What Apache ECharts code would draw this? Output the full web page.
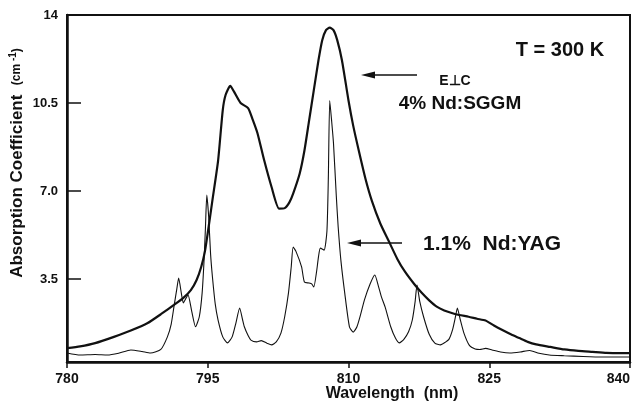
<!DOCTYPE html>
<html>
<head>
<meta charset="utf-8">
<script src="https://cdn.jsdelivr.net/npm/echarts@6/dist/echarts.min.js"></script>
<style>
  html, body { margin: 0; padding: 0; background: #fff; }
  #absorb { width: 643px; height: 404px; }
</style>
</head>
<body>
<div id="absorb"></div>
<script>
// 4% Nd:SGGM (粗线)
const sggmX = [780.0, 781.4, 783.0, 785.0, 786.8, 788.6, 790.0, 791.4, 792.4, 793.2, 793.8, 794.3, 794.7, 795.0, 795.5, 796.1, 796.6, 796.9, 797.4, 797.8, 798.5, 799.3, 799.8, 800.3, 801.0, 801.8, 802.6, 803.2, 803.7, 804.1, 804.8, 805.3, 805.8, 806.3, 806.8, 807.2, 807.6, 808.0, 808.4, 808.8, 809.3, 810.0, 810.5, 811.1, 811.8, 812.5, 813.4, 814.3, 815.2, 816.0, 817.0, 817.8, 818.6, 819.4, 820.2, 821.0, 821.8, 822.8, 823.7, 824.6, 825.5, 826.4, 827.3, 828.2, 829.1, 830.0, 831.5, 833.0, 834.5, 836.0, 837.5, 839.0, 840.0]
const sggmY = [0.75, 0.82, 0.95, 1.2, 1.45, 1.75, 2.1, 2.47, 2.75, 3.06, 3.45, 3.98, 4.6, 5.33, 6.64, 8.2, 10.22, 10.82, 11.18, 10.95, 10.5, 10.3, 9.83, 9.3, 8.24, 7.16, 6.3, 6.32, 6.55, 6.9, 7.7, 8.6, 9.8, 11.0, 12.2, 13.0, 13.4, 13.5, 13.4, 13.0, 12.2, 10.6, 9.6, 8.6, 7.5, 6.6, 5.7, 5.0, 4.3, 3.8, 3.3, 2.95, 2.65, 2.4, 2.25, 2.15, 2.07, 2.0, 1.92, 1.85, 1.65, 1.47, 1.3, 1.15, 1.0, 0.9, 0.8, 0.7, 0.64, 0.6, 0.56, 0.55, 0.55]

// 1.1% Nd:YAG (细线)
const yagX = [780.0, 781.4, 783.0, 784.3, 785.5, 786.8, 788.0, 788.9, 790.0, 790.7, 791.1, 791.4, 791.7, 791.9, 792.2, 792.4, 792.7, 792.9, 793.3, 793.7, 794.1, 794.4, 794.6, 794.75, 794.9, 795.1, 795.3, 795.5, 795.8, 796.1, 796.6, 797.1, 797.6, 798.0, 798.4, 798.7, 798.9, 799.3, 799.6, 800.2, 800.7, 801.3, 801.8, 802.3, 802.8, 803.2, 803.6, 803.9, 804.1, 804.4, 805.0, 805.3, 805.8, 806.1, 806.3, 806.6, 806.8, 807.0, 807.4, 807.7, 807.85, 808.0, 808.2, 808.4, 808.7, 808.9, 809.2, 809.6, 810.1, 810.5, 810.9, 811.3, 811.7, 812.3, 812.8, 813.2, 813.5, 813.9, 814.5, 815.0, 815.4, 815.9, 816.4, 816.8, 817.1, 817.3, 817.6, 818.0, 818.6, 819.2, 819.8, 820.3, 820.7, 821.1, 821.4, 821.6, 821.9, 822.3, 822.9, 823.5, 824.0, 824.6, 825.3, 826.2, 827.2, 828.3, 829.3, 830.3, 831.4, 833.0, 835.0, 837.0, 839.3, 840.0]
const yagY = [0.56, 0.48, 0.5, 0.48, 0.55, 0.68, 0.62, 0.56, 0.7, 1.2, 1.7, 2.4, 3.1, 3.54, 2.9, 2.55, 2.75, 2.87, 2.2, 1.6, 2.0, 2.94, 4.2, 5.5, 6.84, 5.97, 4.5, 3.58, 2.5, 1.87, 1.2, 0.96, 1.2, 1.75, 2.35, 1.9, 1.6, 1.25, 1.07, 1.0, 1.05, 0.95, 0.88, 1.0, 1.35, 2.0, 2.94, 4.0, 4.77, 4.6, 3.98, 3.38, 3.34, 3.3, 3.18, 3.8, 4.38, 4.73, 4.65, 5.4, 7.5, 10.6, 9.8, 8.9, 6.8, 5.57, 4.2, 2.94, 1.6, 1.39, 1.6, 2.1, 2.67, 3.3, 3.66, 3.2, 2.8, 2.39, 1.6, 1.15, 0.96, 1.1, 1.4, 1.87, 2.6, 3.26, 2.6, 2.0, 1.3, 0.95, 0.88, 0.98, 1.1, 1.5, 2.0, 2.35, 1.9, 1.35, 0.85, 0.72, 0.7, 0.74, 0.68, 0.6, 0.56, 0.6, 0.66, 0.55, 0.48, 0.45, 0.42, 0.4, 0.4, 0.4]

// 坐标轴刻度
const xTicks = [780, 795, 810, 825, 840]
const yTicks = [3.5, 7.0, 10.5, 14]
const yTickLabels = ['3.5', '7.0', '10.5', '14']

const font = 'Liberation Sans, Arial, Helvetica, sans-serif'
const ink = '#111'

const toPairs = (xs, ys) => xs.map((x, i) => [x, ys[i]])

// 箭头 (线 + 三角形)
const arrow = (x1, x2, y) => [
  {
    type: 'line',
    shape: { x1: x1 + 10, y1: y, x2: x2, y2: y },
    style: { stroke: ink, lineWidth: 1.5 }
  },
  {
    type: 'polygon',
    shape: { points: [[x1, y], [x1 + 14, y - 3.5], [x1 + 14, y + 3.5]] },
    style: { fill: ink }
  }
]

const option = {
  animation: false,
  backgroundColor: '#fff',
  grid: {
    left: 67,
    right: 13,
    top: 15,
    bottom: 42,
    show: true,
    borderColor: ink,
    borderWidth: 2
  },
  xAxis: {
    type: 'value',
    min: 780,
    max: 840,
    interval: 15,
    axisLine: { lineStyle: { color: ink, width: 2.5 } },
    axisTick: { show: true, length: 6, lineStyle: { color: ink, width: 1.5 } },
    axisLabel: {
      color: ink,
      fontFamily: font,
      fontWeight: 'bold',
      fontSize: 14,
      margin: 10,
      alignMaxLabel: 'right',
      formatter: (v) => (xTicks.includes(v) ? String(v) : '')
    },
    splitLine: { show: false }
  },
  yAxis: {
    type: 'value',
    min: 0.2,
    max: 14,
    axisLine: { show: true, lineStyle: { color: ink, width: 2.5 } },
    axisTick: {
      show: true,
      inside: true,
      length: 14,
      customValues: yTicks,
      lineStyle: { color: ink, width: 1.5 }
    },
    axisLabel: {
      color: ink,
      fontFamily: font,
      fontWeight: 'bold',
      fontSize: 13,
      margin: 9,
      customValues: yTicks,
      formatter: (v) => {
        let idx = yTicks.indexOf(v)
        return idx >= 0 ? yTickLabels[idx] : ''
      }
    },
    splitLine: { show: false }
  },
  series: [
    {
      name: '4% Nd:SGGM',
      type: 'line',
      data: toPairs(sggmX, sggmY),
      smooth: 0.2,
      symbol: 'none',
      lineStyle: { color: ink, width: 2.2 }
    },
    {
      name: '1.1% Nd:YAG',
      type: 'line',
      data: toPairs(yagX, yagY),
      smooth: 0.2,
      symbol: 'none',
      lineStyle: { color: ink, width: 1.1 }
    }
  ],
  graphic: [
    {
      type: 'text',
      x: 17,
      y: 163,
      rotation: Math.PI / 2,
      style: {
        text: 'Absorption Coefficient  {s|(cm}{sup| -1}{s|)}',
        fill: ink,
        font: 'bold 17px ' + font,
        align: 'center',
        verticalAlign: 'middle',
        rich: {
          s: { fontSize: 12, fontWeight: 'bold', fontFamily: font, fill: ink },
          sup: { fontSize: 10, fontWeight: 'bold', fontFamily: font, fill: ink, padding: [0, 0, 8, 0] }
        }
      }
    },
    {
      type: 'text',
      x: 392,
      y: 394,
      style: {
        text: 'Wavelength  (nm)',
        fill: ink,
        font: 'bold 16px ' + font,
        align: 'center',
        verticalAlign: 'middle'
      }
    },
    {
      type: 'text',
      x: 560,
      y: 50,
      style: {
        text: 'T = 300 K',
        fill: ink,
        font: 'bold 20px ' + font,
        align: 'center',
        verticalAlign: 'middle'
      }
    },
    {
      type: 'text',
      x: 455,
      y: 81,
      style: {
        text: 'E\u22A5C',
        fill: ink,
        font: 'bold 14px ' + font,
        align: 'center',
        verticalAlign: 'middle'
      }
    },
    {
      type: 'text',
      x: 460,
      y: 104,
      style: {
        text: '4% Nd:SGGM',
        fill: ink,
        font: 'bold 19px ' + font,
        align: 'center',
        verticalAlign: 'middle'
      }
    },
    {
      type: 'text',
      x: 492,
      y: 244,
      style: {
        text: '1.1%  Nd:YAG',
        fill: ink,
        font: 'bold 21px ' + font,
        align: 'center',
        verticalAlign: 'middle'
      }
    },
    ...arrow(361, 417, 75),
    ...arrow(347, 402, 243)
  ]
}

const initChart = () => {
  let myChart = echarts.init(document.getElementById('absorb'))
  myChart.setOption(option)
}
initChart()
</script>
</body>
</html>
